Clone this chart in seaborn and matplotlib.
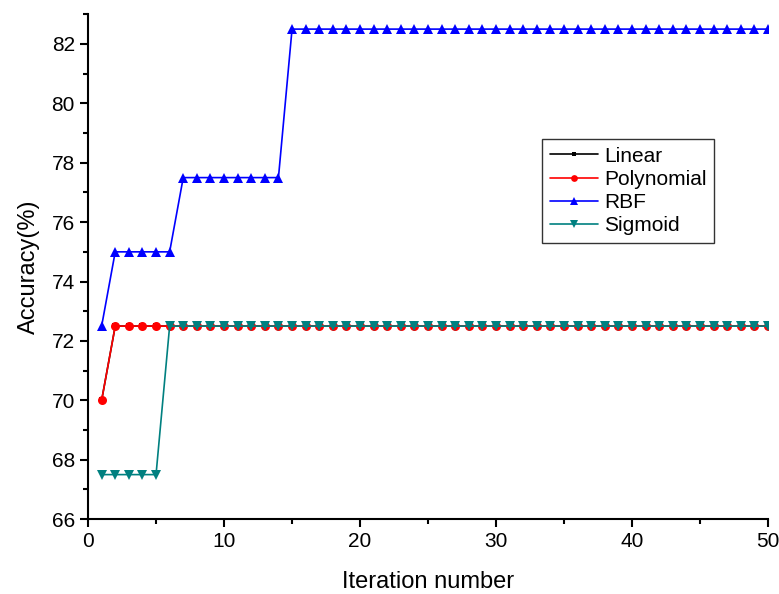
import numpy as np
import pandas as pd
import matplotlib.pyplot as plt
from matplotlib.ticker import MultipleLocator
import seaborn as sns

sns.set_theme(style="ticks")
plt.rcParams['font.family'] = ['Liberation Sans', 'DejaVu Sans']
plt.rcParams['text.color'] = 'black'
plt.rcParams['axes.labelcolor'] = 'black'
plt.rcParams['xtick.color'] = 'black'
plt.rcParams['ytick.color'] = 'black'

# Data
iterations = list(range(1, 51))
linear = [70.0] + [72.5] * 49
polynomial = [70.0] + [72.5] * 49
rbf = [72.5] + [75.0] * 5 + [77.5] * 8 + [82.5] * 36
sigmoid = [67.5] * 5 + [72.5] * 45

series_names = ['Linear', 'Polynomial', 'RBF', 'Sigmoid']
series_values = [linear, polynomial, rbf, sigmoid]
colors = {'Linear': 'black', 'Polynomial': '#ff0000', 'RBF': '#0000ff', 'Sigmoid': '#008080'}
markers = {'Linear': 's', 'Polynomial': 'o', 'RBF': '^', 'Sigmoid': 'v'}
msizes = {'Linear': 4.5, 'Polynomial': 6.5, 'RBF': 7, 'Sigmoid': 7}

fig = plt.figure(figsize=(7.79, 5.94), dpi=100)
ax = fig.add_axes([0.113, 0.126, 0.873, 0.85])

for name, vals in zip(series_names, series_values):
    sns.lineplot(x=iterations, y=vals, color=colors[name], marker=markers[name],
                 markersize=msizes[name], markeredgewidth=0, linewidth=1.2,
                 label=name, ax=ax)

ax.set_xlim(0, 50)
ax.set_ylim(66, 83)
ax.xaxis.set_major_locator(MultipleLocator(10))
ax.xaxis.set_minor_locator(MultipleLocator(5))
ax.yaxis.set_major_locator(MultipleLocator(2))
ax.yaxis.set_minor_locator(MultipleLocator(1))
ax.tick_params(which='major', direction='out', length=6, width=1.5, labelsize=15,
               color='black', labelcolor='black')
ax.tick_params(which='minor', direction='out', length=3.5, width=1.5, color='black')
for s in ['top', 'right']:
    ax.spines[s].set_visible(False)
for s in ['left', 'bottom']:
    ax.spines[s].set_linewidth(1.5)
    ax.spines[s].set_color('black')

ax.set_xlabel('Iteration number', fontsize=17, labelpad=14, color='black')
ax.set_ylabel('Accuracy(%)', fontsize=17, labelpad=8, color='black')

leg = ax.legend(loc='upper right', bbox_to_anchor=(0.92, 0.752), fontsize=15,
                frameon=True, fancybox=False, handlelength=2.3, handletextpad=0.3,
                borderpad=0.35, labelspacing=0.2, borderaxespad=0, markerscale=0.75)
leg.get_frame().set_edgecolor('black')
leg.get_frame().set_linewidth(1.0)
for t in leg.get_texts():
    t.set_color('black')

fig.savefig('out.png', dpi=100)
